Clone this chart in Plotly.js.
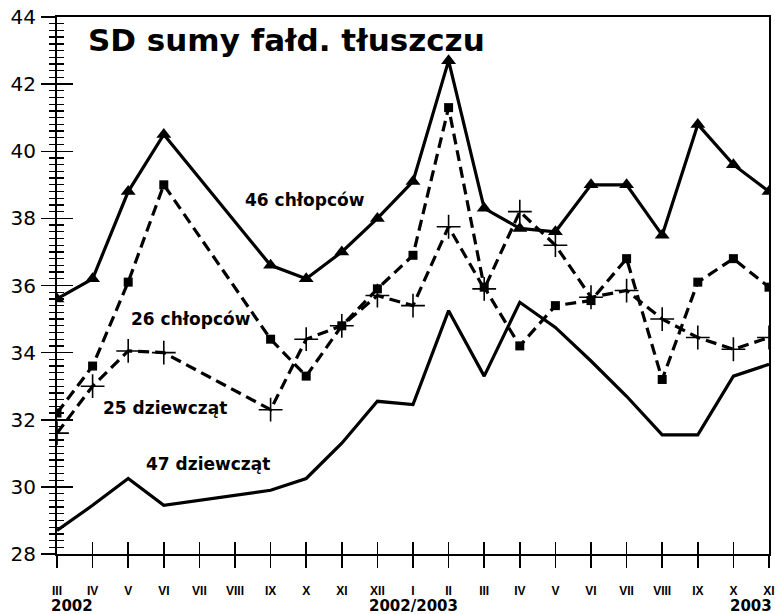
<!DOCTYPE html>
<html><head><meta charset="utf-8">
<script src="https://cdn.plot.ly/plotly-3.0.1.min.js"></script>
<style>html,body{margin:0;padding:0;background:#fff}#c{width:775px;height:614px}</style>
</head><body><div id="c"></div>
<script>
const months = ["III","IV","V","VI","VII","VIII","IX","X","XI","XII","I","II","III","IV","V","VI","VII","VIII","IX","X","XI"];
const yearLabels = ["2002","2002/2003","2003"];
const boys46  = [35.6,36.2,38.8,40.5,null,null,36.6,36.2,37.0,38.0,39.1,42.7,38.3,37.7,37.6,39.0,39.0,37.5,40.8,39.6,38.8];
const boys26  = [32.2,33.6,36.1,39.0,null,null,34.4,33.3,34.8,35.9,36.9,41.3,35.95,34.2,35.4,35.55,36.8,33.2,36.1,36.8,35.95];
const girls25 = [31.6,33.0,34.05,34.0,null,null,32.3,34.4,34.8,35.7,35.4,37.75,35.9,38.2,37.2,35.65,35.85,35.0,34.45,34.1,34.45];
const girls47 = [28.7,29.45,30.25,29.45,null,null,29.9,30.25,31.3,32.55,32.45,35.25,33.3,35.5,34.75,33.75,32.7,31.55,31.55,33.3,33.65];
const seriesNames = ["46 chłopców","26 chłopców","25 dziewcząt","47 dziewcząt"];
const titleText = "SD sumy fałd. tłuszczu";

const idx = months.map((m,i)=>i);
const F = "Liberation Sans, Arial, sans-serif";
const D = "DejaVu Sans, Verdana, sans-serif";
const solid = {color:"#000", width:3.2};
const dashed = {color:"#000", width:3.2, dash:"11px,6px"};

const traces = [
  {x:idx, y:girls47, mode:"lines", line:solid, connectgaps:true, xaxis:"x2", yaxis:"y2", name:seriesNames[3]},
  {x:idx, y:girls25, mode:"lines+markers", line:dashed, connectgaps:true, xaxis:"x2", yaxis:"y2",
   marker:{symbol:"cross-thin", size:17, line:{width:1.6, color:"#000"}, color:"#000"}, name:seriesNames[2]},
  {x:idx, y:boys26, mode:"lines+markers", line:dashed, connectgaps:true,
   marker:{symbol:"square", size:9, color:"#000"}, name:seriesNames[1]},
  {x:idx, y:boys46, mode:"lines+markers", line:solid, connectgaps:true,
   marker:{symbol:"triangle-up", size:13, color:"#000"}, name:seriesNames[0]}
];

const layout = {
  width:775, height:614, paper_bgcolor:"#fff", plot_bgcolor:"#fff", showlegend:false,
  margin:{l:57, r:6, t:17, b:60},
  xaxis: {range:[0,20], tickvals:idx, ticktext:months, showline:true, linewidth:2, linecolor:"#000",
    ticks:"outside", ticklen:12, tickwidth:1.5, tickcolor:"#000", showgrid:false, zeroline:false,
    tickfont:{family:F, size:12, color:"#000", weight:"bold"}, ticklabelstandoff:13, mirror:true},
  yaxis: {range:[28,44], dtick:2, showline:true, linewidth:2, linecolor:"#000", mirror:true,
    ticks:"outside", ticklen:14, tickwidth:1.5, tickcolor:"#000", showgrid:false, zeroline:false,
    tickfont:{family:D, size:20, color:"#000"}, ticklabelstandoff:1,
    minor:{dtick:0.2, ticks:"outside", ticklen:6, tickwidth:1.3, tickcolor:"#000"}},
  xaxis2: {range:[0,20], overlaying:"x", anchor:"y2", tickvals:idx, showticklabels:false,
    ticks:"inside", ticklen:12, tickwidth:1.5, tickcolor:"#000", showgrid:false, zeroline:false, showline:false},
  yaxis2: {range:[28,44], overlaying:"y", anchor:"x2", dtick:2, showticklabels:false,
    ticks:"inside", ticklen:16, tickwidth:1.5, tickcolor:"#000", showgrid:false, zeroline:false, showline:false,
    minor:{dtick:0.2, ticks:"inside", ticklen:7, tickwidth:1.3, tickcolor:"#000"}},
  annotations: [
    {text:titleText, xref:"paper", yref:"paper", x:0.323, y:0.957, xanchor:"center", yanchor:"middle", showarrow:false,
     font:{family:D, size:31, color:"#000", weight:"bold"}},
    {text:seriesNames[0], x:6.97, y:38.54, xanchor:"center", yanchor:"middle", showarrow:false, font:{family:D, size:17, color:"#000", weight:"bold"}},
    {text:seriesNames[1], x:3.77, y:35.0, xanchor:"center", yanchor:"middle", showarrow:false, font:{family:D, size:17, color:"#000", weight:"bold"}},
    {text:seriesNames[2], x:3.03, y:32.36, xanchor:"center", yanchor:"middle", showarrow:false, font:{family:D, size:17, color:"#000", weight:"bold"}},
    {text:seriesNames[3], x:4.25, y:30.69, xanchor:"center", yanchor:"middle", showarrow:false, font:{family:D, size:17, color:"#000", weight:"bold"}},
    {text:yearLabels[0], xref:"x", yref:"paper", x:0, y:-0.097, xanchor:"left", yanchor:"middle", xshift:-8, showarrow:false,
     font:{family:D, size:15, color:"#000", weight:"bold"}},
    {text:yearLabels[1], xref:"x", yref:"paper", x:10, y:-0.097, xanchor:"center", yanchor:"middle", showarrow:false,
     font:{family:D, size:15, color:"#000", weight:"bold"}},
    {text:yearLabels[2], xref:"x", yref:"paper", x:20, y:-0.097, xanchor:"right", yanchor:"middle", xshift:5, showarrow:false,
     font:{family:D, size:15, color:"#000", weight:"bold"}}
  ]
};
Plotly.newPlot("c", traces, layout, {displayModeBar:false, staticPlot:true});
</script></body></html>
